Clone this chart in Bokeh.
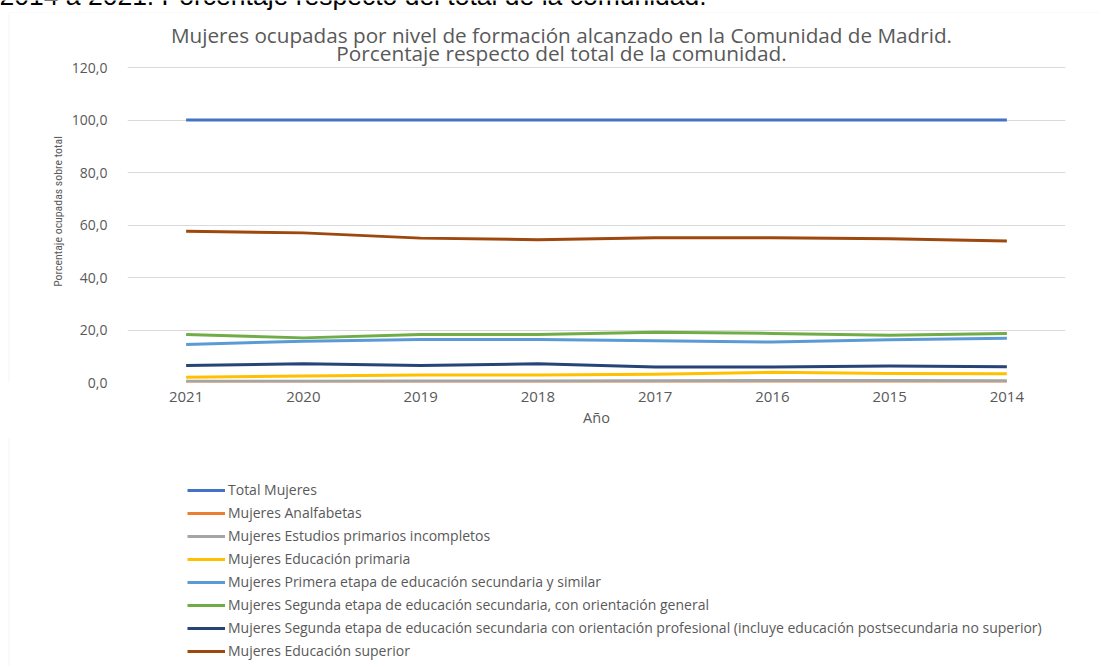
import math
from bokeh.plotting import figure
from bokeh.layouts import column, row
from bokeh.models import Legend, LegendItem, FixedTicker, Range1d, Label, BoxAnnotation
from bokeh.embed import file_html
from bokeh.resources import INLINE

years = ["2021", "2020", "2019", "2018", "2017", "2016", "2015", "2014"]

total_mujeres = [100.0, 100.0, 100.0, 100.0, 100.0, 100.0, 100.0, 100.0]
analfabetas = [0.1, 0.1, 0.1, 0.1, 0.1, 0.1, 0.1, 0.1]
primarios_incompletos = [0.5, 0.5, 0.6, 0.6, 0.7, 0.8, 0.8, 0.7]
educacion_primaria = [2.0, 2.5, 2.9, 2.9, 3.1, 3.9, 3.4, 3.3]
primera_etapa_sec = [14.5, 15.7, 16.4, 16.4, 15.9, 15.4, 16.3, 16.9]
segunda_general = [18.3, 17.0, 18.3, 18.3, 19.1, 18.7, 18.0, 18.7]
segunda_profesional = [6.5, 7.1, 6.5, 7.1, 5.9, 5.9, 6.3, 6.0]
educacion_superior = [57.6, 57.0, 55.0, 54.4, 55.1, 55.1, 54.8, 53.9]

series_names = [
    "Total Mujeres",
    "Mujeres Analfabetas",
    "Mujeres Estudios primarios incompletos",
    "Mujeres Educación primaria",
    "Mujeres Primera etapa de educación secundaria y similar",
    "Mujeres Segunda etapa de educación secundaria, con orientación general",
    "Mujeres Segunda etapa de educación secundaria con orientación profesional (incluye educación postsecundaria no superior)",
    "Mujeres Educación superior",
]
series_values = [total_mujeres, analfabetas, primarios_incompletos, educacion_primaria,
                 primera_etapa_sec, segunda_general, segunda_profesional, educacion_superior]
series_colors = ["#4472C4", "#ED7D31", "#A5A5A5", "#FFC000",
                 "#5B9BD5", "#70AD47", "#264478", "#9E480E"]

y_ticks = [0, 20, 40, 60, 80, 100, 120]
y_tick_labels = {t: f"{t:.1f}".replace(".", ",") for t in y_ticks}

page_caption = "2014 a 2021. Porcentaje respecto del total de la comunidad."
title_line1 = "Mujeres ocupadas por nivel de formación alcanzado en la Comunidad de Madrid."
title_line2 = "Porcentaje respecto del total de la comunidad."
y_title = "Porcentaje ocupadas sobre total"
x_title = "Año"

FONT = "Open Sans"
GRAY = "#595959"
BORDER = "#D9D9D9"

W = 1100
TOP_STRIP_H = 13      # strip with the clipped caption and the box's top edge
LEFT_W = 68           # strip holding the box's left edge and the y title
CHART_H = 425         # chart row height (page y 13 .. 438)
FRAME_BOTTOM = 382 - TOP_STRIP_H  # frame bottom inside the chart row
PX_PER_UNIT = 2.625
LEG_H = 666 - TOP_STRIP_H - CHART_H


def bare(fig):
    fig.outline_line_color = None
    fig.background_fill_color = "white"
    fig.border_fill_color = "white"
    fig.min_border = 0
    fig.grid.visible = False
    return fig


def box(left, right, top, bottom):
    return BoxAnnotation(left=left, right=right, top=top, bottom=bottom,
                         left_units="screen", right_units="screen",
                         top_units="screen", bottom_units="screen",
                         fill_alpha=0, line_color=BORDER, line_width=1)


# ---------- top strip: clipped caption above the chart box ----------
p_top = bare(figure(width=W, height=TOP_STRIP_H, x_range=Range1d(0, W), y_range=Range1d(0, TOP_STRIP_H),
                    output_backend="svg", toolbar_location=None, title_location=None,
                    x_axis_location=None, y_axis_location=None))
p_top.add_layout(box(8.5, 5000, 0.5, -100))
p_top.add_layout(Label(x=-1, y=TOP_STRIP_H + 5, x_units="screen", y_units="screen",
                       text=page_caption, text_align="left", text_baseline="alphabetic",
                       text_font="Liberation Sans, Arial", text_font_size="26.5px",
                       text_color="#000000"))

# ---------- left strip: box edge + rotated y title ----------
p_left = bare(figure(width=LEFT_W, height=CHART_H, x_range=Range1d(0, LEFT_W), y_range=Range1d(0, CHART_H),
                     output_backend="svg", toolbar_location=None, title_location=None,
                     x_axis_location=None, y_axis_location=None))
p_left.add_layout(box(8.5, 5000, 5000, -100))
p_left.add_layout(Label(x=57, y=171, x_units="screen", y_units="screen",
                        text=y_title, angle=math.pi / 2,
                        text_align="center", text_baseline="middle",
                        text_font="Liberation Sans Narrow, Roboto Condensed, Roboto",
                        text_font_size="11.8px", text_color=GRAY))

# ---------- main chart ----------
y_top = FRAME_BOTTOM / PX_PER_UNIT
p = figure(x_range=years, y_range=Range1d(0, y_top), width=W - LEFT_W, height=CHART_H,
           output_backend="svg", toolbar_location=None, title_location=None,
           min_border_left=123 - LEFT_W, min_border_right=W - 1065, min_border_top=0,
           min_border_bottom=CHART_H - FRAME_BOTTOM)
p.outline_line_color = None
p.background_fill_color = "white"
p.border_fill_color = "white"

p.xgrid.grid_line_color = None
p.ygrid.grid_line_color = BORDER
p.ygrid.grid_line_width = 1
p.yaxis.ticker = FixedTicker(ticks=y_ticks)
p.ygrid.ticker = FixedTicker(ticks=y_ticks)
p.yaxis.major_label_overrides = y_tick_labels
for ax in (p.xaxis[0], p.yaxis[0]):
    ax.axis_line_color = None
    ax.major_tick_line_color = None
    ax.minor_tick_line_color = None
    ax.major_label_text_font = FONT
    ax.major_label_text_color = GRAY
    ax.major_label_text_font_size = "14px"
p.xaxis.major_label_text_font_size = "15px"
p.yaxis.major_label_standoff = 14
p.xaxis.major_label_standoff = 3
p.xaxis.axis_label = x_title
p.xaxis.axis_label_text_font = FONT
p.xaxis.axis_label_text_font_style = "normal"
p.xaxis.axis_label_text_color = GRAY
p.xaxis.axis_label_text_font_size = "14.5px"
p.xaxis.axis_label_standoff = 3

for vals, col in zip(series_values, series_colors):
    p.line(years, vals, line_color=col, line_width=3, line_join="round")

# two-line chart title (inside the tall frame, above the 120 gridline)
p.add_layout(Label(x=434, y=348, x_units="screen", y_units="screen",
                   text=title_line1, text_align="center", text_baseline="middle",
                   text_font=FONT, text_font_size="20.7px", text_color=GRAY))
p.add_layout(Label(x=434, y=330, x_units="screen", y_units="screen",
                   text=title_line2, text_align="center", text_baseline="middle",
                   text_font=FONT, text_font_size="20.8px", text_color=GRAY))

# ---------- legend strip ----------
p_leg = bare(figure(width=W, height=LEG_H, x_range=years, y_range=Range1d(1000, 1001),
                    output_backend="svg", toolbar_location=None, title_location=None,
                    x_axis_location=None, y_axis_location=None))
p_leg.add_layout(box(8.5, 5000, 5000, -100))
items = []
for name, vals, col in zip(series_names, series_values, series_colors):
    r = p_leg.line(years, vals, line_color=col, line_width=3)
    items.append(LegendItem(label=name, renderers=[r]))
legend = Legend(items=items, location=(187, 6), orientation="vertical",
                glyph_width=38, glyph_height=18, label_height=18, spacing=4,
                label_standoff=3, padding=0, margin=0,
                border_line_color=None, background_fill_alpha=0,
                label_text_font=FONT, label_text_font_size="14px", label_text_color=GRAY)
p_leg.add_layout(legend, "center")

layout = column(p_top, row(p_left, p), p_leg)
open("out.html", "w").write(file_html(layout, INLINE))
